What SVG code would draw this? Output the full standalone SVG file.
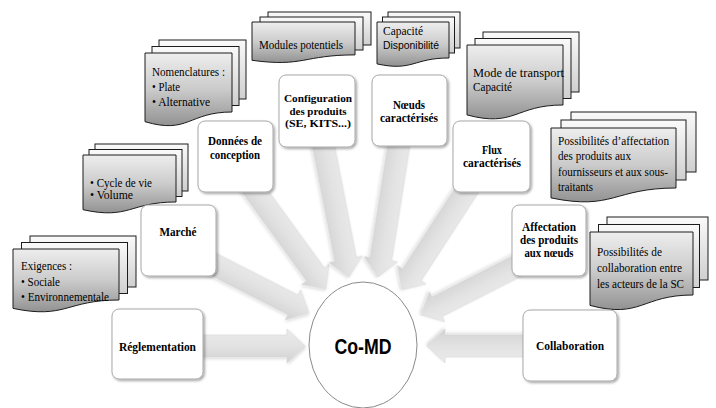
<svg xmlns="http://www.w3.org/2000/svg" xmlns:xlink="http://www.w3.org/1999/xlink" width="716" height="408" viewBox="0 0 716 408">
<defs>
<linearGradient id="docFront" x1="0" y1="0" x2="0" y2="1">
<stop offset="0" stop-color="#eeeeee"/>
<stop offset="0.5" stop-color="#cbcbcb"/>
<stop offset="1" stop-color="#929292"/>
</linearGradient>
<linearGradient id="docBack" x1="0" y1="0" x2="0" y2="1">
<stop offset="0" stop-color="#fafafa"/>
<stop offset="1" stop-color="#cfcfcf"/>
</linearGradient>
<linearGradient id="arrowFill" x1="0" y1="0" x2="0" y2="1">
<stop offset="0" stop-color="#ebebeb"/>
<stop offset="0.5" stop-color="#e2e2e2"/>
<stop offset="1" stop-color="#d2d2d2"/>
</linearGradient>
<filter id="shadow" x="-20%" y="-20%" width="150%" height="150%">
<feDropShadow dx="1.5" dy="1.5" stdDeviation="1.2" flood-color="#000" flood-opacity="0.35"/>
</filter>
<filter id="softShadow" x="-10%" y="-30%" width="130%" height="160%">
<feDropShadow dx="1" dy="1.5" stdDeviation="1.5" flood-color="#000" flood-opacity="0.15"/>
</filter>
<path id="arrow" d="M-140,-11 H-18 V-17 L0,0 L-18,17 V11 H-140 Z"/>
</defs>
<style>
.arr{fill:url(#arrowFill);stroke:#d6d6d6;stroke-width:0.6;filter:url(#softShadow)}
.box{fill:#ffffff;stroke:#a8a8a8;stroke-width:1;filter:url(#shadow)}
.front{fill:url(#docFront);stroke:#1c1c1c;stroke-width:1}
.back{fill:url(#docBack);stroke:#1c1c1c;stroke-width:1}
.lbl{font-family:"Liberation Serif","Times New Roman",serif;font-weight:bold;font-size:12px;fill:#000;text-anchor:middle}
.sm{font-size:11px}
.doc{font-family:"Liberation Serif","Times New Roman",serif;font-size:11.5px;fill:#000}
.sans{font-family:"Liberation Sans",Arial,sans-serif;font-size:10px;fill:#000}
.core{font-family:"Liberation Sans",Arial,sans-serif;font-weight:bold;font-size:22px;fill:#000;text-anchor:middle}
</style>
<rect width="716" height="408" fill="#ffffff"/>

<g id="connectors">
<use xlink:href="#arrow" href="#arrow" class="arr" transform="translate(305,346)"/>
<use xlink:href="#arrow" href="#arrow" class="arr" transform="translate(427,346) rotate(180)"/>
<use xlink:href="#arrow" href="#arrow" class="arr" transform="translate(309,313) rotate(27)"/>
<use xlink:href="#arrow" href="#arrow" class="arr" transform="translate(326,289) rotate(54)"/>
<use xlink:href="#arrow" href="#arrow" class="arr" transform="translate(349,277) rotate(79)"/>
<use xlink:href="#arrow" href="#arrow" class="arr" transform="translate(378,277) rotate(99)"/>
<use xlink:href="#arrow" href="#arrow" class="arr" transform="translate(402,290) rotate(123)"/>
<use xlink:href="#arrow" href="#arrow" class="arr" transform="translate(421,315) rotate(153)"/>
</g>

<g id="doc-exigences">
<rect class="back" x="30" y="236" width="106" height="51"/>
<rect class="back" x="21.5" y="242.5" width="106" height="51"/>
<path class="front" d="M13,249 H119 V300 C66,300 66,319.4 13,308.4 Z"/>
<text class="doc" x="21" y="270" textLength="51" lengthAdjust="spacingAndGlyphs">Exigences :</text>
<text class="doc" x="21" y="286" textLength="39" lengthAdjust="spacingAndGlyphs">• Sociale</text>
<text class="doc" x="21" y="301" textLength="88" lengthAdjust="spacingAndGlyphs">• Environnementale</text>
</g>

<g id="doc-cycle">
<rect class="back" x="95" y="144" width="93" height="47"/>
<rect class="back" x="89" y="149.5" width="93" height="47"/>
<path class="front" d="M83,155 H176 V202 C129.5,202 129.5,219.9 83,209.7 Z"/>
<text class="doc" x="90" y="187" textLength="62" lengthAdjust="spacingAndGlyphs">• Cycle de vie</text>
<text class="doc" x="90" y="199" textLength="43" lengthAdjust="spacingAndGlyphs">• Volume</text>
</g>

<g id="doc-nomenclatures">
<rect class="back" x="159" y="40" width="87" height="59"/>
<rect class="back" x="152" y="46.5" width="87" height="59"/>
<path class="front" d="M145,53 H232 V112 C188.5,112 188.5,134.5 145,121.7 Z"/>
<text class="doc" x="152" y="76" textLength="73" lengthAdjust="spacingAndGlyphs">Nomenclatures :</text>
<text class="doc" x="152" y="91" textLength="28" lengthAdjust="spacingAndGlyphs">• Plate</text>
<text class="doc" x="152" y="106" textLength="58" lengthAdjust="spacingAndGlyphs">• Alternative</text>
</g>

<g id="doc-modules">
<rect class="back" x="268" y="12" width="103" height="33"/>
<rect class="back" x="260" y="17" width="103" height="33"/>
<path class="front" d="M252,22 H355 V54.9 C303.5,54.9 303.5,67.4 252,60.3 Z"/>
<text class="doc" x="259" y="49" textLength="84" lengthAdjust="spacingAndGlyphs">Modules potentiels</text>
</g>

<g id="doc-capacite">
<rect class="back" x="388" y="12" width="72" height="36"/>
<rect class="back" x="382.5" y="17" width="72" height="36"/>
<path class="front" d="M377,22 H449 V58 C413,58 413,71.7 377,63.9 Z"/>
<text class="doc" x="383" y="35" textLength="40" lengthAdjust="spacingAndGlyphs">Capacité</text>
<text class="sans" x="383" y="49" textLength="56" lengthAdjust="spacingAndGlyphs">Disponibilité</text>
</g>

<g id="doc-transport">
<rect class="back" x="483" y="32" width="96" height="60"/>
<rect class="back" x="475" y="38.5" width="96" height="60"/>
<path class="front" d="M467,45 H563 V105 C515,105 515,127.8 467,114.9 Z"/>
<text class="doc" x="473" y="77" textLength="91" lengthAdjust="spacingAndGlyphs">Mode de transport</text>
<text class="doc" x="473" y="91" textLength="39" lengthAdjust="spacingAndGlyphs">Capacité</text>
</g>

<g id="doc-affectation">
<rect class="back" x="571" y="112" width="125" height="60"/>
<rect class="back" x="561" y="120" width="125" height="60"/>
<path class="front" d="M551,128 H676 V188 C613.5,188 613.5,210.8 551,197.9 Z"/>
<text class="doc" x="558" y="145" textLength="111" lengthAdjust="spacingAndGlyphs">Possibilités d’affectation</text>
<text class="doc" x="558" y="160" textLength="73" lengthAdjust="spacingAndGlyphs">des produits aux</text>
<text class="doc" x="558" y="176" textLength="110" lengthAdjust="spacingAndGlyphs">fournisseurs  et aux sous-</text>
<text class="doc" x="558" y="191" textLength="35" lengthAdjust="spacingAndGlyphs">traitants</text>
</g>

<g id="doc-collaboration">
<rect class="back" x="607" y="217" width="101" height="63"/>
<rect class="back" x="598.5" y="224.5" width="101" height="63"/>
<path class="front" d="M590,232 H693 V295 C641.5,295 641.5,319 590,305.4 Z"/>
<text class="doc" x="597" y="256" textLength="65" lengthAdjust="spacingAndGlyphs">Possibilités de</text>
<text class="doc" x="597" y="272" textLength="85" lengthAdjust="spacingAndGlyphs">collaboration entre</text>
<text class="doc" x="597" y="288" textLength="87" lengthAdjust="spacingAndGlyphs">les acteurs de la SC</text>
</g>

<g id="node-reglementation">
<rect class="box" x="112" y="309" width="91" height="70" rx="7"/>
<text class="lbl" x="157.5" y="351" textLength="77" lengthAdjust="spacingAndGlyphs">Réglementation</text>
</g>

<g id="node-marche">
<rect class="box" x="141" y="205" width="75" height="71" rx="7"/>
<text class="lbl" x="178" y="236" textLength="37" lengthAdjust="spacingAndGlyphs">Marché</text>
</g>

<g id="node-donnees">
<rect class="box" x="198" y="121" width="75" height="71" rx="7"/>
<text class="lbl" x="235" y="145" textLength="54" lengthAdjust="spacingAndGlyphs">Données de</text>
<text class="lbl" x="235" y="159" textLength="50" lengthAdjust="spacingAndGlyphs">conception</text>
</g>

<g id="node-configuration">
<rect class="box" x="279" y="75" width="76" height="72" rx="7"/>
<text class="lbl sm" x="318" y="102" textLength="68" lengthAdjust="spacingAndGlyphs">Configuration</text>
<text class="lbl sm" x="318" y="114.5" textLength="57" lengthAdjust="spacingAndGlyphs">des produits</text>
<text class="lbl sm" x="318" y="127" textLength="66" lengthAdjust="spacingAndGlyphs">(SE, KITS...)</text>
</g>

<g id="node-noeuds">
<rect class="box" x="372" y="75" width="75" height="71" rx="7"/>
<text class="lbl" x="409" y="109" textLength="32" lengthAdjust="spacingAndGlyphs">Nœuds</text>
<text class="lbl" x="409" y="122" textLength="58" lengthAdjust="spacingAndGlyphs">caractérisés</text>
</g>

<g id="node-flux">
<rect class="box" x="453" y="121" width="77" height="71" rx="7"/>
<text class="lbl" x="492" y="154" textLength="20" lengthAdjust="spacingAndGlyphs">Flux</text>
<text class="lbl" x="492" y="167" textLength="58" lengthAdjust="spacingAndGlyphs">caractérisés</text>
</g>

<g id="node-affectation">
<rect class="box" x="512" y="205" width="74" height="71" rx="7"/>
<text class="lbl" x="549" y="231" textLength="54" lengthAdjust="spacingAndGlyphs">Affectation</text>
<text class="lbl" x="549" y="244" textLength="58" lengthAdjust="spacingAndGlyphs">des produits</text>
<text class="lbl" x="549" y="257" textLength="49" lengthAdjust="spacingAndGlyphs">aux nœuds</text>
</g>

<g id="node-collaboration">
<rect class="box" x="523" y="310" width="94" height="71" rx="7"/>
<text class="lbl" x="570" y="350" textLength="68" lengthAdjust="spacingAndGlyphs">Collaboration</text>
</g>

<g id="node-comd">
<ellipse cx="363" cy="345" rx="54" ry="63" fill="#ffffff" stroke="#8a8a8a" stroke-width="1"/>
<text class="core" x="363" y="354" textLength="57" lengthAdjust="spacingAndGlyphs">Co-MD</text>
</g>
</svg>
